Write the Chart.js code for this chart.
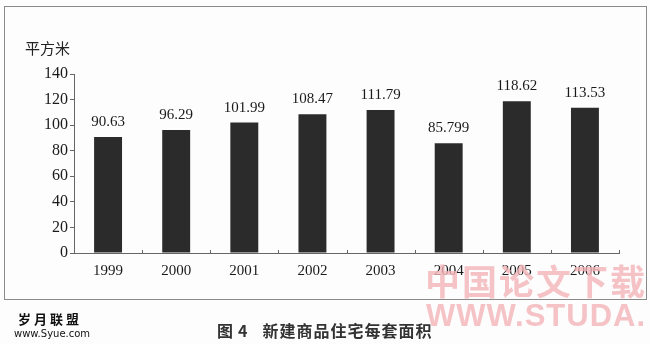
<!DOCTYPE html>
<html>
<head>
<meta charset="utf-8">
<script src="https://cdn.jsdelivr.net/npm/chart.js@4.4.1/dist/chart.umd.min.js"></script>
<style>
    body { margin: 0; background: #fff; }
    #wrap { position: relative; width: 650px; height: 344px; background: #fdfdfd; overflow: hidden; }
    #frame { position: absolute; left: 4px; top: 6px; width: 643px; height: 294px; border: 1px solid #8a8a8a; box-sizing: border-box; }
    #chart { position: absolute; left: 0; top: 0; }
    .txt { position: absolute; white-space: nowrap; color: #222; line-height: 1; }
    #unit { left: 25px; top: 37px; font: 15px "Noto Sans CJK SC", serif; }
    #caption { left: 217px; top: 318px; font: bold 16px "Noto Sans CJK SC", sans-serif; color: #333; }
    #caption .num { margin-left: 5px; margin-right: 15px; }
    #caption .name { letter-spacing: 1px; }
    #logo1 { left: 18px; top: 309px; font: bold 13px "Noto Sans CJK SC", sans-serif; letter-spacing: 3px; color: #111; }
    #logo2 { left: 14px; top: 328px; font: 10px "DejaVu Sans", sans-serif; color: #111; }
    .mark { color: #f3b3b8; opacity: 0.8; }
    #mark1 { left: 425px; top: 254px; font: bold 35px "Noto Sans CJK SC", sans-serif; letter-spacing: 2px; }
    #mark2 { left: 426px; top: 298px; font: bold 31px "Liberation Sans", sans-serif; letter-spacing: 1px; }
</style>
</head>
<body>
<div id="wrap">
    <div id="frame"></div>
    <canvas id="chart" width="650" height="344"></canvas>
    <div class="txt" id="unit">平方米</div>
    <div class="txt mark" id="mark1">中国论文下载</div>
    <div class="txt mark" id="mark2">WWW.STUDA.</div>
    <div class="txt" id="logo1">岁月联盟</div>
    <div class="txt" id="logo2">www.Syue.com</div>
    <div class="txt" id="caption">图<span class="num">4</span><span class="name">新建商品住宅每套面积</span></div>
</div>
<script>
// Data
const years = ['1999', '2000', '2001', '2002', '2003', '2004', '2005', '2006'];
const areaPerUnit = [90.63, 96.29, 101.99, 108.47, 111.79, 85.799, 118.62, 113.53];
const yTicks = [0, 20, 40, 60, 80, 100, 120, 140];

const serif = '"Liberation Serif", "DejaVu Serif", serif';

// Value labels above each bar
const barLabels = {
    id: 'barLabels',
    afterDatasetsDraw(chart) {
        const ctx = chart.ctx;
        const meta = chart.getDatasetMeta(0);
        ctx.save();
        ctx.font = '15px ' + serif;
        ctx.fillStyle = '#1a1a1a';
        ctx.textAlign = 'center';
        ctx.textBaseline = 'alphabetic';
        meta.data.forEach((bar, i) => {
            ctx.fillText(String(areaPerUnit[i]), bar.x, bar.y - 11);
        });
        ctx.restore();
    }
};

// Small inward tick marks between categories on the x axis
const xInnerTicks = {
    id: 'xInnerTicks',
    afterDraw(chart) {
        const ctx = chart.ctx;
        const x = chart.scales.x;
        const bottom = chart.chartArea.bottom;
        ctx.save();
        ctx.strokeStyle = '#666';
        ctx.lineWidth = 1;
        for (let i = 1; i <= years.length; i++) {
            const px = Math.round(x.getPixelForValue(i - 0.5)) + 0.5;
            ctx.beginPath();
            ctx.moveTo(px, bottom);
            ctx.lineTo(px, bottom - 3);
            ctx.stroke();
        }
        ctx.restore();
    }
};

new Chart(document.getElementById('chart'), {
    type: 'bar',
    data: {
        labels: years,
        datasets: [{
            data: areaPerUnit,
            backgroundColor: '#2b2b2b',
            borderWidth: 0,
            barPercentage: 0.82,
            categoryPercentage: 0.5
        }]
    },
    options: {
        responsive: false,
        animation: false,
        events: [],
        layout: { padding: { left: 0, right: 31, top: 74, bottom: 52 } },
        plugins: { legend: { display: false }, tooltip: { enabled: false } },
        scales: {
            x: {
                grid: { display: false },
                border: { display: true, color: '#666', width: 1 },
                ticks: { color: '#1a1a1a', font: { family: serif, size: 15 }, padding: 1, maxRotation: 0 },
                afterFit(scale) { scale.height = 39; }
            },
            y: {
                min: 0,
                max: 140,
                afterBuildTicks(scale) { scale.ticks = yTicks.map(v => ({ value: v })); },
                grid: { drawOnChartArea: false, tickLength: 4, color: '#666' },
                border: { display: true, color: '#666', width: 1 },
                ticks: { color: '#1a1a1a', font: { family: serif, size: 16 }, padding: 2 },
                afterFit(scale) { scale.width = 74; }
            }
        }
    },
    plugins: [barLabels, xInnerTicks]
});
</script>
</body>
</html>
